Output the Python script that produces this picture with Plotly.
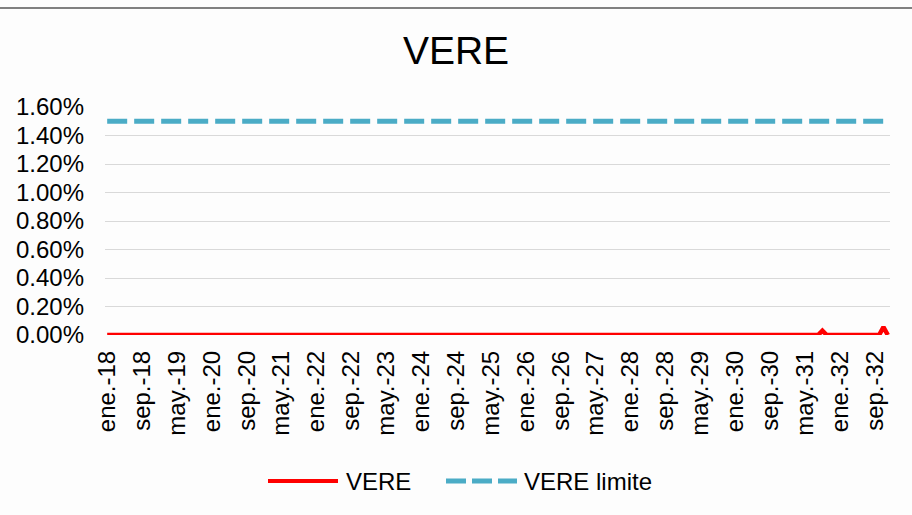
import plotly.graph_objects as go

# ---- data ----
month_abbr = ["ene.", "feb.", "mar.", "abr.", "may.", "jun.",
              "jul.", "ago.", "sep.", "oct.", "nov.", "dic."]
years = list(range(18, 33))
categories = [f"{m}-{y:02d}" for y in years for m in month_abbr]  # ene.-18 .. dic.-32

vere = [0.0] * 164 + [0.0003] + [0.0] * 13 + [0.00055] + [0.0]
vere_limite = [0.015] * 180

series_names = ["VERE", "VERE limite"]
series_colors = ["#ff0000", "#4bacc6"]

tick_idx = list(range(0, 180, 8))
tick_labels = [categories[i] for i in tick_idx]
y_ticks = [0.0, 0.002, 0.004, 0.006, 0.008, 0.010, 0.012, 0.014, 0.016]
y_tick_labels = ["0.00%", "0.20%", "0.40%", "0.60%", "0.80%", "1.00%", "1.20%", "1.40%", "1.60%"]

x = list(range(len(categories)))

FONT = "Liberation Sans, Arial, sans-serif"
FS = 24

# plot area in pixels
L, R, T, B = 105, 890, 107, 335
PW, PH = R - L, B - T


def px(v):
    return (v - L) / PW


def py(v):
    return (B - v) / PH


fig = go.Figure()
fig.add_trace(go.Scatter(
    x=x, y=vere, name=series_names[0], mode="lines",
    line=dict(color=series_colors[0], width=4.5),
    text=categories, hovertemplate="%{text}: %{y:.2%}<extra>VERE</extra>",
))
fig.add_trace(go.Scatter(
    x=x, y=vere_limite, name=series_names[1], mode="lines",
    line=dict(color=series_colors[1], width=5, dash="20px,7px"),
    text=categories, hovertemplate="%{text}: %{y:.2%}<extra>VERE limite</extra>",
))

# custom legend (Excel style: long line samples)
legend_y = 481
shapes = [
    dict(type="line", xref="paper", yref="paper",
         x0=px(0), x1=px(912), y0=py(8), y1=py(8),
         line=dict(color="#808080", width=2)),
    dict(type="line", xref="paper", yref="paper",
         x0=px(268), x1=px(338), y0=py(legend_y), y1=py(legend_y),
         line=dict(color=series_colors[0], width=4)),
    dict(type="line", xref="paper", yref="paper",
         x0=px(446), x1=px(517), y0=py(legend_y), y1=py(legend_y),
         line=dict(color=series_colors[1], width=5, dash="20px,6px")),
]
annotations = [
    dict(xref="paper", yref="paper", x=px(344), y=py(legend_y), text=series_names[0],
         showarrow=False, xanchor="left", yanchor="middle",
         font=dict(family=FONT, size=FS, color="#000000")),
    dict(xref="paper", yref="paper", x=px(522), y=py(legend_y), text=series_names[1],
         showarrow=False, xanchor="left", yanchor="middle",
         font=dict(family=FONT, size=FS, color="#000000")),
]

fig.update_layout(
    width=912, height=515,
    margin=dict(l=L, r=912 - R, t=T, b=515 - B),
    paper_bgcolor="#fdfdfd", plot_bgcolor="#fdfdfd",
    font=dict(family=FONT, size=FS, color="#000000"),
    title=dict(text="VERE", x=0.5, xanchor="center", y=1 - 50 / 515, yanchor="middle",
               yref="container", font=dict(family=FONT, size=39, color="#000000")),
    showlegend=False,
    xaxis=dict(
        range=[-0.5, 179.5], tickmode="array", tickvals=tick_idx, ticktext=tick_labels,
        tickangle=-90, showgrid=False, zeroline=False, showline=False, automargin=False,
        ticks="", ticklabelstandoff=10, tickfont=dict(family=FONT, size=FS), fixedrange=True,
    ),
    yaxis=dict(
        range=[0, 0.016], tickmode="array", tickvals=y_ticks, ticktext=y_tick_labels,
        showgrid=True, gridcolor="#d9d9d9", gridwidth=1, zeroline=False, showline=False,
        automargin=False, ticks="", ticklabelstandoff=20,
        tickfont=dict(family=FONT, size=FS), fixedrange=True,
    ),
    shapes=shapes,
    annotations=annotations,
)

fig.write_html("out.html", config={"displayModeBar": False},
               post_script="document.body.style.margin='0px';")
